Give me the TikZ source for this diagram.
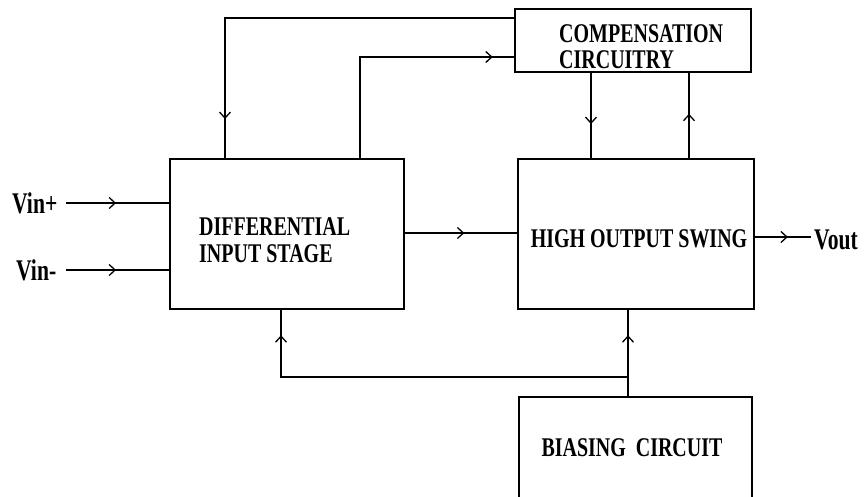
\documentclass[tikz,border=0pt]{standalone}
\usepackage{fontspec}
\setmainfont{Liberation Serif}
\newfontfamily\boxfont[FakeStretch=0.74]{Liberation Serif}
\newfontfamily\sigfont[FakeStretch=0.72]{Liberation Serif}
\usetikzlibrary{arrows.meta,decorations.markings}
\tikzset{
  box/.style={draw, line width=1.4pt, inner sep=0pt},
  boxtext/.style={inner sep=0pt, align=left, font=\boxfont\bfseries\fontsize{27}{26.5}\selectfont},
  sigtext/.style={inner sep=0pt, font=\sigfont\bfseries\fontsize{30}{30}\selectfont},
  ln/.style={line width=1.3pt, line cap=rect},
  arrat/.style={postaction={decorate}, decoration={markings, mark=at position #1 with {\arrow{Straight Barb[length=6pt,width=11pt,line width=1.3pt]}}}},
}
\begin{document}
\begin{tikzpicture}[x=1pt,y=-1pt]
\useasboundingbox (0,0) rectangle (866,497);
\clip (0,0) rectangle (866,497);
% boxes
\node[box, minimum width=236, minimum height=63] (comp) at (633,40.5) {};
\node[box, minimum width=234, minimum height=150] (dis) at (287,234) {};
\node[box, minimum width=236, minimum height=150] (hos) at (636,234) {};
\node[box, minimum width=233, minimum height=140] (bias) at (635.5,467) {};
% texts
\node[boxtext, anchor=west] (comptxt) at (559,46.5) {COMPENSATION\\CIRCUITRY};
\node[boxtext, anchor=west] (distxt) at (199,240) {DIFFERENTIAL\\INPUT STAGE};
\node[boxtext] (hostxt) at (639,239) {HIGH OUTPUT SWING};
\node[boxtext] (biastxt) at (632,448) {BIASING~~CIRCUIT};
\node[sigtext, anchor=west] (vinp) at (12,203) {Vin+};
\node[sigtext, anchor=west] (vinm) at (16,270) {Vin-};
\node[sigtext, anchor=west] (vout) at (814,240) {Vout};
% input connectors
\coordinate (vp) at (67,203);
\coordinate (vm) at (67,270);
\draw[ln, arrat=0.48] (vp) -- (vp -| dis.west);
\draw[ln, arrat=0.48] (vm) -- (vm -| dis.west);
% dis -> hos
\draw[ln, arrat=0.53] (dis.east |- 0,233) -- (hos.west |- 0,233);
% hos -> vout
\coordinate (vo) at (810,237);
\draw[ln, arrat=0.6] (hos.east |- vo) -- (vo);
% comp -> dis
\coordinate (k1) at (225,18);
\draw[ln] (comp.west |- k1) -- (k1);
\draw[ln, arrat=0.72] (k1) -- (k1 |- dis.north);
% dis -> comp
\coordinate (k2) at (360,57);
\draw[ln] (k2 |- dis.north) -- (k2);
\draw[ln, arrat=0.86] (k2) -- (comp.west |- k2);
% comp <-> hos
\coordinate (k3) at (591,100);
\coordinate (k4) at (689,100);
\draw[ln, arrat=0.6] (k3 |- comp.south) -- (k3 |- hos.north);
\draw[ln, arrat=0.52] (k4 |- hos.north) -- (k4 |- comp.south);
% bias -> hos, dis
\coordinate (k5) at (628,377);
\coordinate (k6) at (281,377);
\draw[ln] (k5 |- bias.north) -- (k5);
\draw[ln, arrat=0.62] (k5) -- (k5 |- hos.south);
\draw[ln] (k5) -- (k6);
\draw[ln, arrat=0.62] (k6) -- (k6 |- dis.south);
\end{tikzpicture}
\end{document}
